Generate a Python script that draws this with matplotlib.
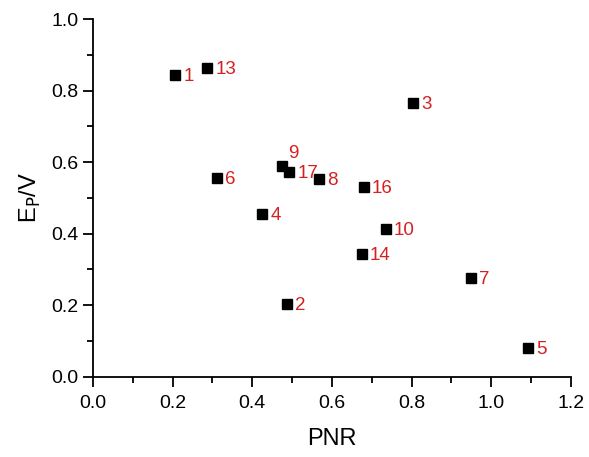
import matplotlib
matplotlib.use("Agg")
import matplotlib.pyplot as plt
from matplotlib.ticker import MultipleLocator

plt.rcParams['font.family'] = ['Liberation Sans', 'DejaVu Sans']

# data
labels = ['1', '13', '3', '9', '17', '8', '6', '16', '4', '10', '14', '2', '7', '5']
pnr = [0.206, 0.286, 0.803, 0.475, 0.492, 0.567, 0.311, 0.680, 0.424, 0.735, 0.675, 0.487, 0.949, 1.092]
ep = [0.843, 0.863, 0.765, 0.589, 0.572, 0.553, 0.555, 0.530, 0.455, 0.413, 0.343, 0.203, 0.276, 0.080]

fig = plt.figure(figsize=(5.89, 4.57), dpi=100)
ax = fig.add_axes([0.158, 0.176, 0.811, 0.782])

ax.plot(pnr, ep, 's', color='black', markersize=7.5, linestyle='none')

for lab, x, y in zip(labels, pnr, ep):
    if lab == '9':
        ax.annotate(lab, (x, y), xytext=(4, 3), textcoords='offset points',
                    color='#d42020', fontsize=13.5, va='bottom', ha='left')
    else:
        ax.annotate(lab, (x, y), xytext=(6, -1), textcoords='offset points',
                    color='#d42020', fontsize=13.5, va='center', ha='left')

ax.set_xlim(0, 1.2)
ax.set_ylim(0, 1.0)
ax.xaxis.set_major_locator(MultipleLocator(0.2))
ax.xaxis.set_minor_locator(MultipleLocator(0.1))
ax.yaxis.set_major_locator(MultipleLocator(0.2))
ax.yaxis.set_minor_locator(MultipleLocator(0.1))
ax.xaxis.set_major_formatter(plt.FormatStrFormatter('%.1f'))
ax.yaxis.set_major_formatter(plt.FormatStrFormatter('%.1f'))

for s in ['top', 'right']:
    ax.spines[s].set_visible(False)
for s in ['left', 'bottom']:
    ax.spines[s].set_linewidth(1.3)

ax.tick_params(which='major', direction='out', length=7, width=1.3, labelsize=14, colors='black')
ax.tick_params(axis='x', which='major', pad=6)
ax.tick_params(which='minor', direction='out', length=4, width=1.3)

ax.set_xlabel('PNR', fontsize=17, labelpad=12)
ax.set_ylabel(r'E$_\mathrm{P}$/V', fontsize=17, labelpad=6)

fig.savefig('out.png', dpi=100)
